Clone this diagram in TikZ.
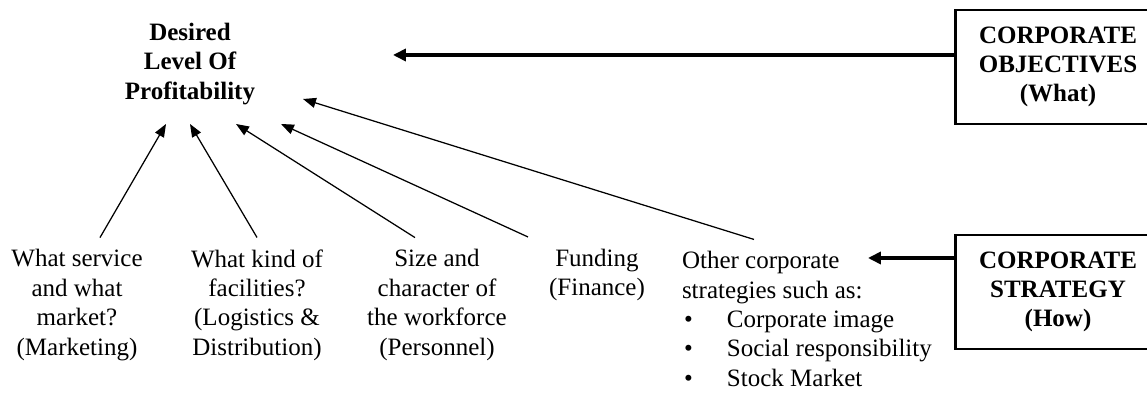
\documentclass[tikz,border=0pt]{standalone}
\usepackage{fontspec}
\setmainfont{Liberation Serif}
\usetikzlibrary{arrows.meta,calc}
\begin{document}
\begin{tikzpicture}[x=0.48pt,y=-0.48pt,inner sep=0pt,outer sep=0pt,
font=\fontsize{12}{14.1}\selectfont,
goaltext/.style={align=center,font=\fontsize{12}{14.1}\selectfont\bfseries},
itemtext/.style={align=center},
planbox/.style={rectangle,text width=98pt,minimum height=54.7pt,align=center,font=\fontsize{12}{14.1}\selectfont\bfseries},
rim/.style={line width=1.4pt},
feed/.style={line width=0.6pt,-{Triangle[length=6.2pt,width=4.8pt]}},
drive/.style={line width=1.5pt,-{Triangle[length=6.2pt,width=5.8pt]}}]
\useasboundingbox (0,0) rectangle (1147,393);
\draw (190,64) node[goaltext] (goal) {Desired\\Level Of\\Profitability};
\draw (1058,67) node[planbox] (obj) {CORPORATE\\OBJECTIVES\\(What)};
\draw (1058,292) node[planbox] (strat) {CORPORATE\\STRATEGY\\(How)};
% boxes run past the right edge
\draw[rim] ($(obj.north east)+(30,0)$) -- (obj.north west) -- (obj.south west) -- ($(obj.south east)+(30,0)$);
\draw[rim] ($(strat.north east)+(30,0)$) -- (strat.north west) -- (strat.south west) -- ($(strat.south east)+(30,0)$);

\draw (77,305) node[itemtext] (mkt) {What service\\and what\\market?\\(Marketing)};
\draw (257,305) node[itemtext] (fac) {What kind of\\facilities?\\(Logistics \&\\Distribution)};
\draw (437,305) node[itemtext] (staff) {Size and\\character of\\the workforce\\(Personnel)};
\draw (597,275) node[itemtext] (fund) {Funding\\(Finance)};
\draw (682,319) node[anchor=west,align=left] (other) {Other corporate\\strategies such as:\\
\makebox[21.6pt][l]{\hspace{1pt}\textbullet}Corporate image\\
\makebox[21.6pt][l]{\hspace{1pt}\textbullet}Social responsibility\\
\makebox[21.6pt][l]{\hspace{1pt}\textbullet}Stock Market};

% arrow tips below the goal
\coordinate (t1) at (166,124);
\coordinate (t2) at (190,124);
\coordinate (t3) at (236,124);
\coordinate (t4) at (281,124);
\coordinate (t5) at (303,99);
\draw[feed] ($(mkt.north)+(23,-12)$) -- (t1);
\draw[feed] ($(fac.north)+(0,-12)$) -- (t2);
\draw[feed] ($(staff.north)+(-22,-12)$) -- (t3);
\draw[feed] ($(fund.north)+(-69,-12)$) -- (t4);
\draw[feed] ($(other.north west)+(72,-12)$) -- (t5);

\coordinate (aim) at (393,55);
\draw[drive] (obj.west |- aim) -- (aim);
\coordinate (how) at (868,258);
\draw[drive] (strat.west |- how) -- (how);
\end{tikzpicture}
\end{document}
